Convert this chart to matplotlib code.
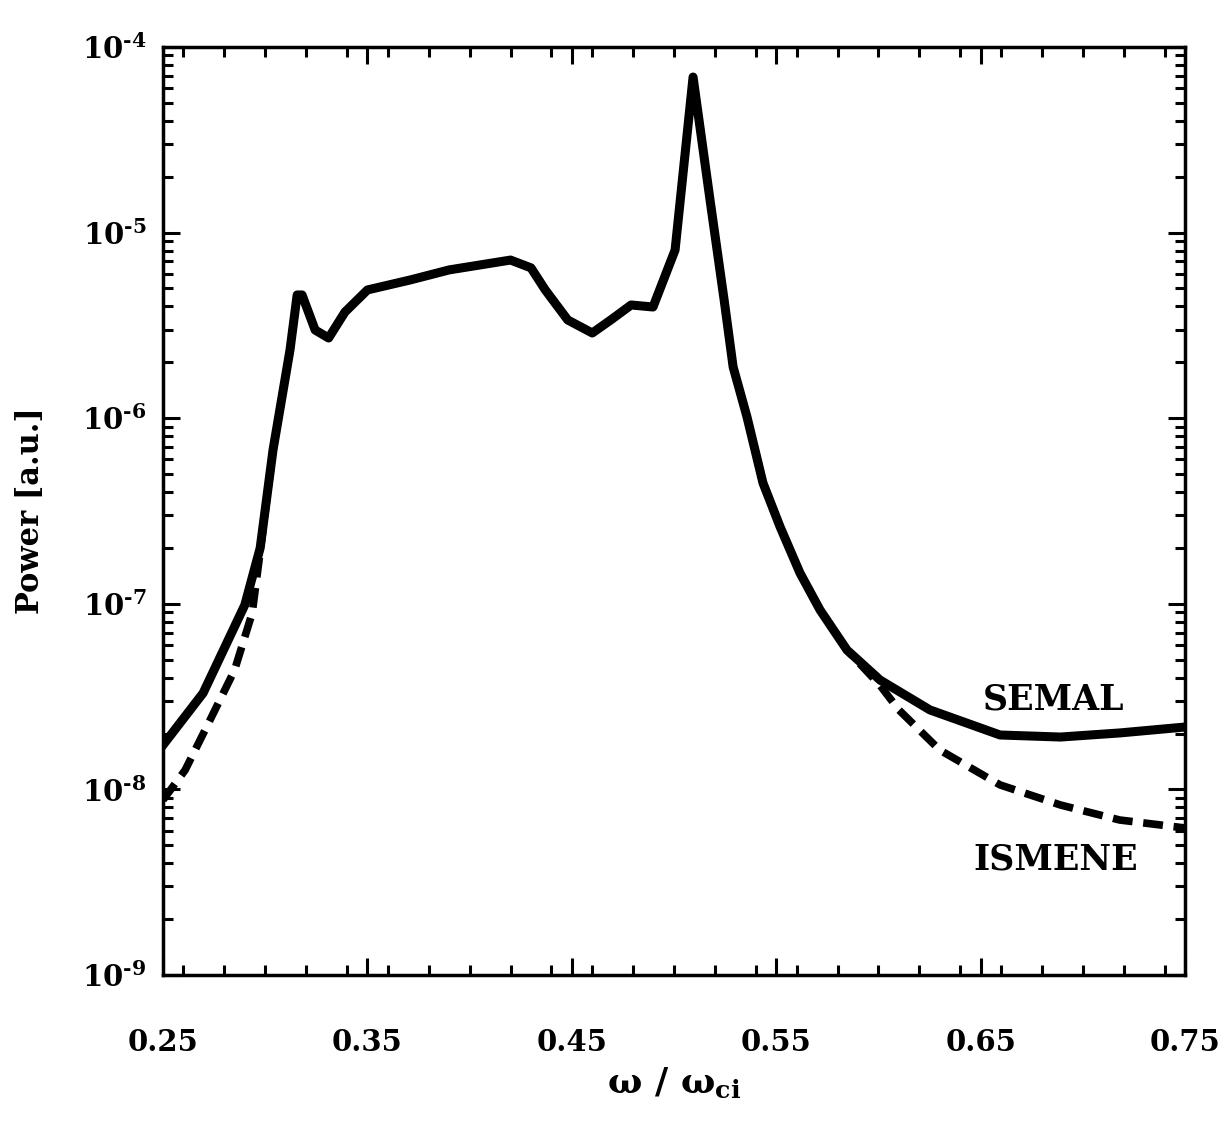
import numpy as np
import matplotlib.pyplot as plt
from matplotlib.ticker import MultipleLocator, FixedLocator, LogLocator

plt.rcParams['font.family'] = 'DejaVu Serif'
plt.rcParams['font.weight'] = 'bold'
plt.rcParams['mathtext.fontset'] = 'dejavuserif'
plt.rcParams['mathtext.default'] = 'bf'

# SEMAL (solid), log10 of power
semal_x = [0.25, 0.2696, 0.290, 0.2975, 0.3038, 0.3121, 0.3156, 0.318, 0.3244, 0.331,
           0.339, 0.350, 0.371, 0.390, 0.420, 0.430, 0.437, 0.448, 0.460, 0.469,
           0.479, 0.4897, 0.5005, 0.5093, 0.5176, 0.5245, 0.5289, 0.5357, 0.5435,
           0.5519, 0.5616, 0.5714, 0.5846, 0.6008, 0.6252, 0.6595, 0.689, 0.718, 0.75]
semal_log = [-7.761, -7.481, -7.006, -6.70, -6.171, -5.633, -5.336, -5.336, -5.525, -5.568,
             -5.428, -5.309, -5.255, -5.201, -5.148, -5.19, -5.309, -5.471, -5.541, -5.471,
             -5.39, -5.401, -5.094, -4.162, -4.824, -5.363, -5.724, -5.994, -6.349,
             -6.586, -6.834, -7.033, -7.249, -7.411, -7.572, -7.707, -7.718, -7.696, -7.664]

# ISMENE (dashed), log10 of power
ismene_x = [0.25, 0.2608, 0.273, 0.285, 0.2936, 0.2975, 0.3038, 0.3121, 0.3156, 0.318,
            0.3244, 0.331, 0.339, 0.350, 0.371, 0.390, 0.420, 0.430, 0.437, 0.448,
            0.460, 0.469, 0.479, 0.4897, 0.5005, 0.5093, 0.5176, 0.5245, 0.5289,
            0.5357, 0.5435, 0.5519, 0.5616, 0.5714, 0.5846, 0.6008, 0.610, 0.630,
            0.6595, 0.689, 0.718, 0.75]
ismene_log = [-8.057, -7.896, -7.626, -7.357, -7.05, -6.72, -6.171, -5.633, -5.336, -5.336,
              -5.525, -5.568, -5.428, -5.309, -5.255, -5.201, -5.148, -5.19, -5.309, -5.471,
              -5.541, -5.471, -5.39, -5.401, -5.094, -4.162, -4.824, -5.363, -5.724,
              -5.994, -6.349, -6.586, -6.834, -7.033, -7.249, -7.44, -7.572, -7.788,
              -7.976, -8.084, -8.165, -8.208]

xticks = [0.25, 0.35, 0.45, 0.55, 0.65, 0.75]
decades = list(range(-9, -3))

semal_y = 10.0 ** np.array(semal_log)
ismene_y = 10.0 ** np.array(ismene_log)

fig = plt.figure(figsize=(12.26, 11.27), dpi=100)
ax = fig.add_axes([0.133, 0.1349, 0.8336, 0.8234])

ax.plot(ismene_x, ismene_y, color='black', lw=5.5, dashes=(2.6, 1.4))
ax.plot(semal_x, semal_y, color='black', lw=6.5, solid_joinstyle='round')

ax.set_yscale('log')
ax.set_xlim(0.25, 0.75)
ax.set_ylim(1e-9, 1e-4)

ax.xaxis.set_major_locator(FixedLocator(xticks))
ax.xaxis.set_minor_locator(MultipleLocator(0.02))
ax.set_xticklabels(['%.2f' % v for v in xticks])
ax.set_yticks([10.0 ** k for k in decades])
ax.yaxis.set_minor_locator(LogLocator(base=10, subs=np.arange(2, 10), numticks=20))
ax.set_yticklabels([r'$10^{\text{-%d}}$' % (-k) for k in decades])

ax.tick_params(which='both', direction='in', top=True, right=True, width=2.2)
ax.tick_params(which='major', length=12)
ax.tick_params(which='minor', length=7)
ax.tick_params(axis='x', which='major', pad=38, labelsize=21)
ax.tick_params(axis='y', which='major', pad=12, labelsize=21)
for s in ax.spines.values():
    s.set_linewidth(2.5)

ax.set_xlabel(r'$\omega\ /\ \omega_{ci}$', fontsize=26, labelpad=6)
ax.set_ylabel('Power [a.u.]', fontsize=22, fontweight='bold', labelpad=26)

ax.text(0.6854, 10.0 ** -7.518, 'SEMAL', fontsize=25, fontweight='bold', ha='center', va='center')
ax.text(0.6869, 10.0 ** -8.380, 'ISMENE', fontsize=25, fontweight='bold', ha='center', va='center')

fig.savefig('out.png', dpi=100)
